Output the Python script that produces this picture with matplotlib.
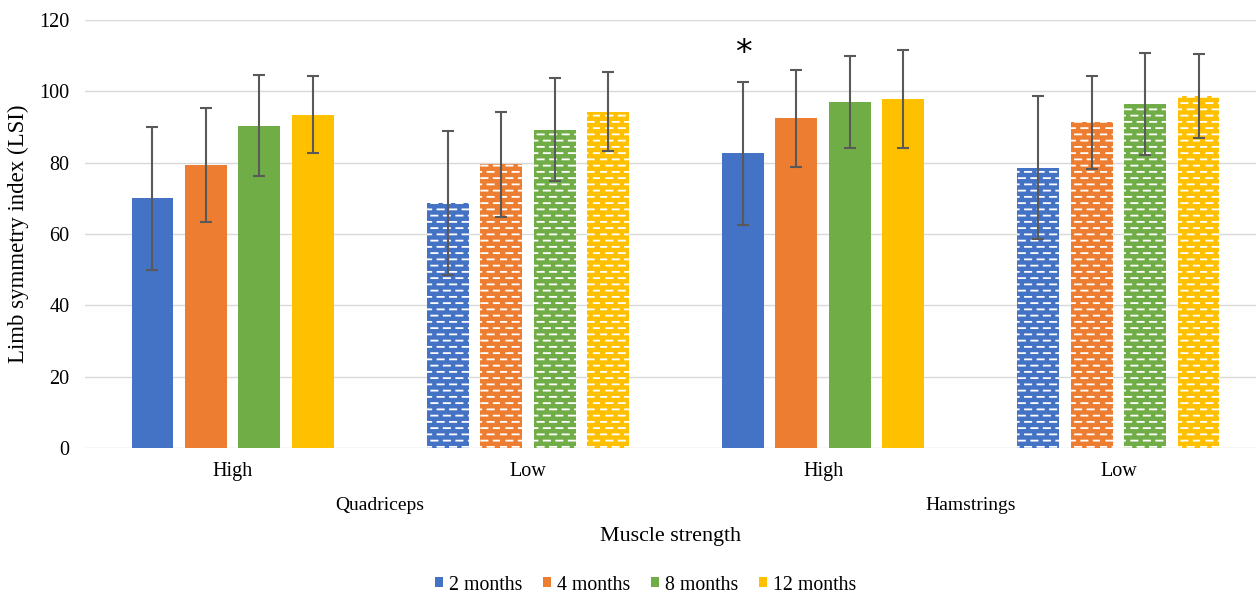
import numpy as np
import matplotlib
matplotlib.use("Agg")
import matplotlib.pyplot as plt
from matplotlib import hatch as mhatch
from matplotlib.path import Path
from matplotlib.patches import Patch

groups = ["High", "Low", "High", "Low"]
muscles = ["Quadriceps", "Hamstrings"]
series = ["2 months", "4 months", "8 months", "12 months"]
colors = ["#4472C4", "#ED7D31", "#70AD47", "#FFC000"]

m2 = [70.0, 68.8, 82.6, 78.6]
m4 = [79.3, 79.5, 92.4, 91.3]
m8 = [90.4, 89.2, 97.0, 96.4]
m12 = [93.5, 94.3, 97.8, 98.7]

s2 = [20.1, 20.2, 20.0, 20.1]
s4 = [15.9, 14.6, 13.6, 13.0]
s8 = [14.2, 14.4, 13.0, 14.3]
s12 = [10.9, 11.0, 13.7, 11.7]

low_group = [False, True, False, True]
star_group, star_series = 2, 0


# staggered white dashes, like the excel "dashed horizontal" fill
class DashHatch(mhatch.HatchPatternBase):
    rows = 16
    cols = 8

    def __init__(self, hatch, density):
        self.num_vertices = 2 * self.rows * self.cols if '-' in hatch else 0

    def set_vertices_and_codes(self, vertices, codes):
        dy = 1.0 / self.rows
        dx = 1.0 / self.cols
        k = 0
        for r in range(self.rows):
            y = (r + 0.5) * dy
            shift = 0.5 * dx if r % 2 else 0.0
            for c in range(self.cols):
                x0 = c * dx + shift
                vertices[k] = (x0, y)
                vertices[k + 1] = (x0 + 0.5 * dx, y)
                codes[k] = Path.MOVETO
                codes[k + 1] = Path.LINETO
                k += 2


mhatch._hatch_types = [DashHatch] + [t for t in mhatch._hatch_types
                                     if t is not mhatch.HorizontalHatch]

plt.rcParams['font.family'] = ['Liberation Serif', 'DejaVu Serif']
plt.rcParams['hatch.color'] = 'white'
plt.rcParams['hatch.linewidth'] = 1.3

fig = plt.figure(figsize=(12.56, 5.96), dpi=100)
ax = fig.add_axes([85 / 1256, 1 - 448 / 596, 1171 / 1256, 428 / 596])

means = [m2, m4, m8, m12]
sds = [s2, s4, s8, s12]
x = np.arange(len(groups))
step = 0.181
width = 0.142

for i in range(len(series)):
    xs = x + (i - 1.5) * step
    for g in range(len(groups)):
        ax.bar(xs[g], means[i][g], width, color=colors[i], edgecolor=None,
               linewidth=0, hatch='-' if low_group[g] else None, zorder=2)
    ax.errorbar(xs, means[i], yerr=sds[i], fmt='none', ecolor='#595959',
                elinewidth=1.5, capsize=4, capthick=1.5, zorder=3)

sx = x[star_group] + (star_series - 1.5) * step
ax.text(sx, means[star_series][star_group] + sds[star_series][star_group] + 3.5, '*',
        ha='center', va='bottom', fontsize=24, family='DejaVu Sans')

ax.set_ylim(0, 120)
ax.set_xlim(-0.5, 3.5 - 10 / 295.3)
ax.set_yticks(range(0, 121, 20))
ax.set_xticks(x, groups)
ax.tick_params(axis='both', length=0, labelsize=14.5)
ax.tick_params(axis='x', pad=10)
ax.tick_params(axis='y', pad=11)
ax.grid(axis='y', color='#d9d9d9', linewidth=1, zorder=0)
ax.set_axisbelow(True)
for sp in ax.spines.values():
    sp.set_visible(False)

for k, name in enumerate(muscles):
    ax.text(x[2 * k:2 * k + 2].mean(), (448 - 506) / 428, name, fontsize=14,
            ha='center', va='center', transform=ax.get_xaxis_transform())

ax.set_xlabel('Muscle strength', fontsize=15.8, va='center')
ax.xaxis.set_label_coords(0.5, (448 - 536) / 428)
ax.set_ylabel('Limb symmetry index (LSI)', fontsize=16.5, va='center')
ax.yaxis.set_label_coords(-0.057, 0.5)

handles = [Patch(facecolor=c, edgecolor='none') for c in colors]
fig.legend(handles, series, loc='center', bbox_to_anchor=(646 / 1256, 1 - 585 / 596),
           ncol=4, frameon=False, fontsize=14.3, handlelength=0.4, handleheight=0.4,
           handletextpad=0.3, columnspacing=1.05)

fig.savefig('out.png', dpi=100)
